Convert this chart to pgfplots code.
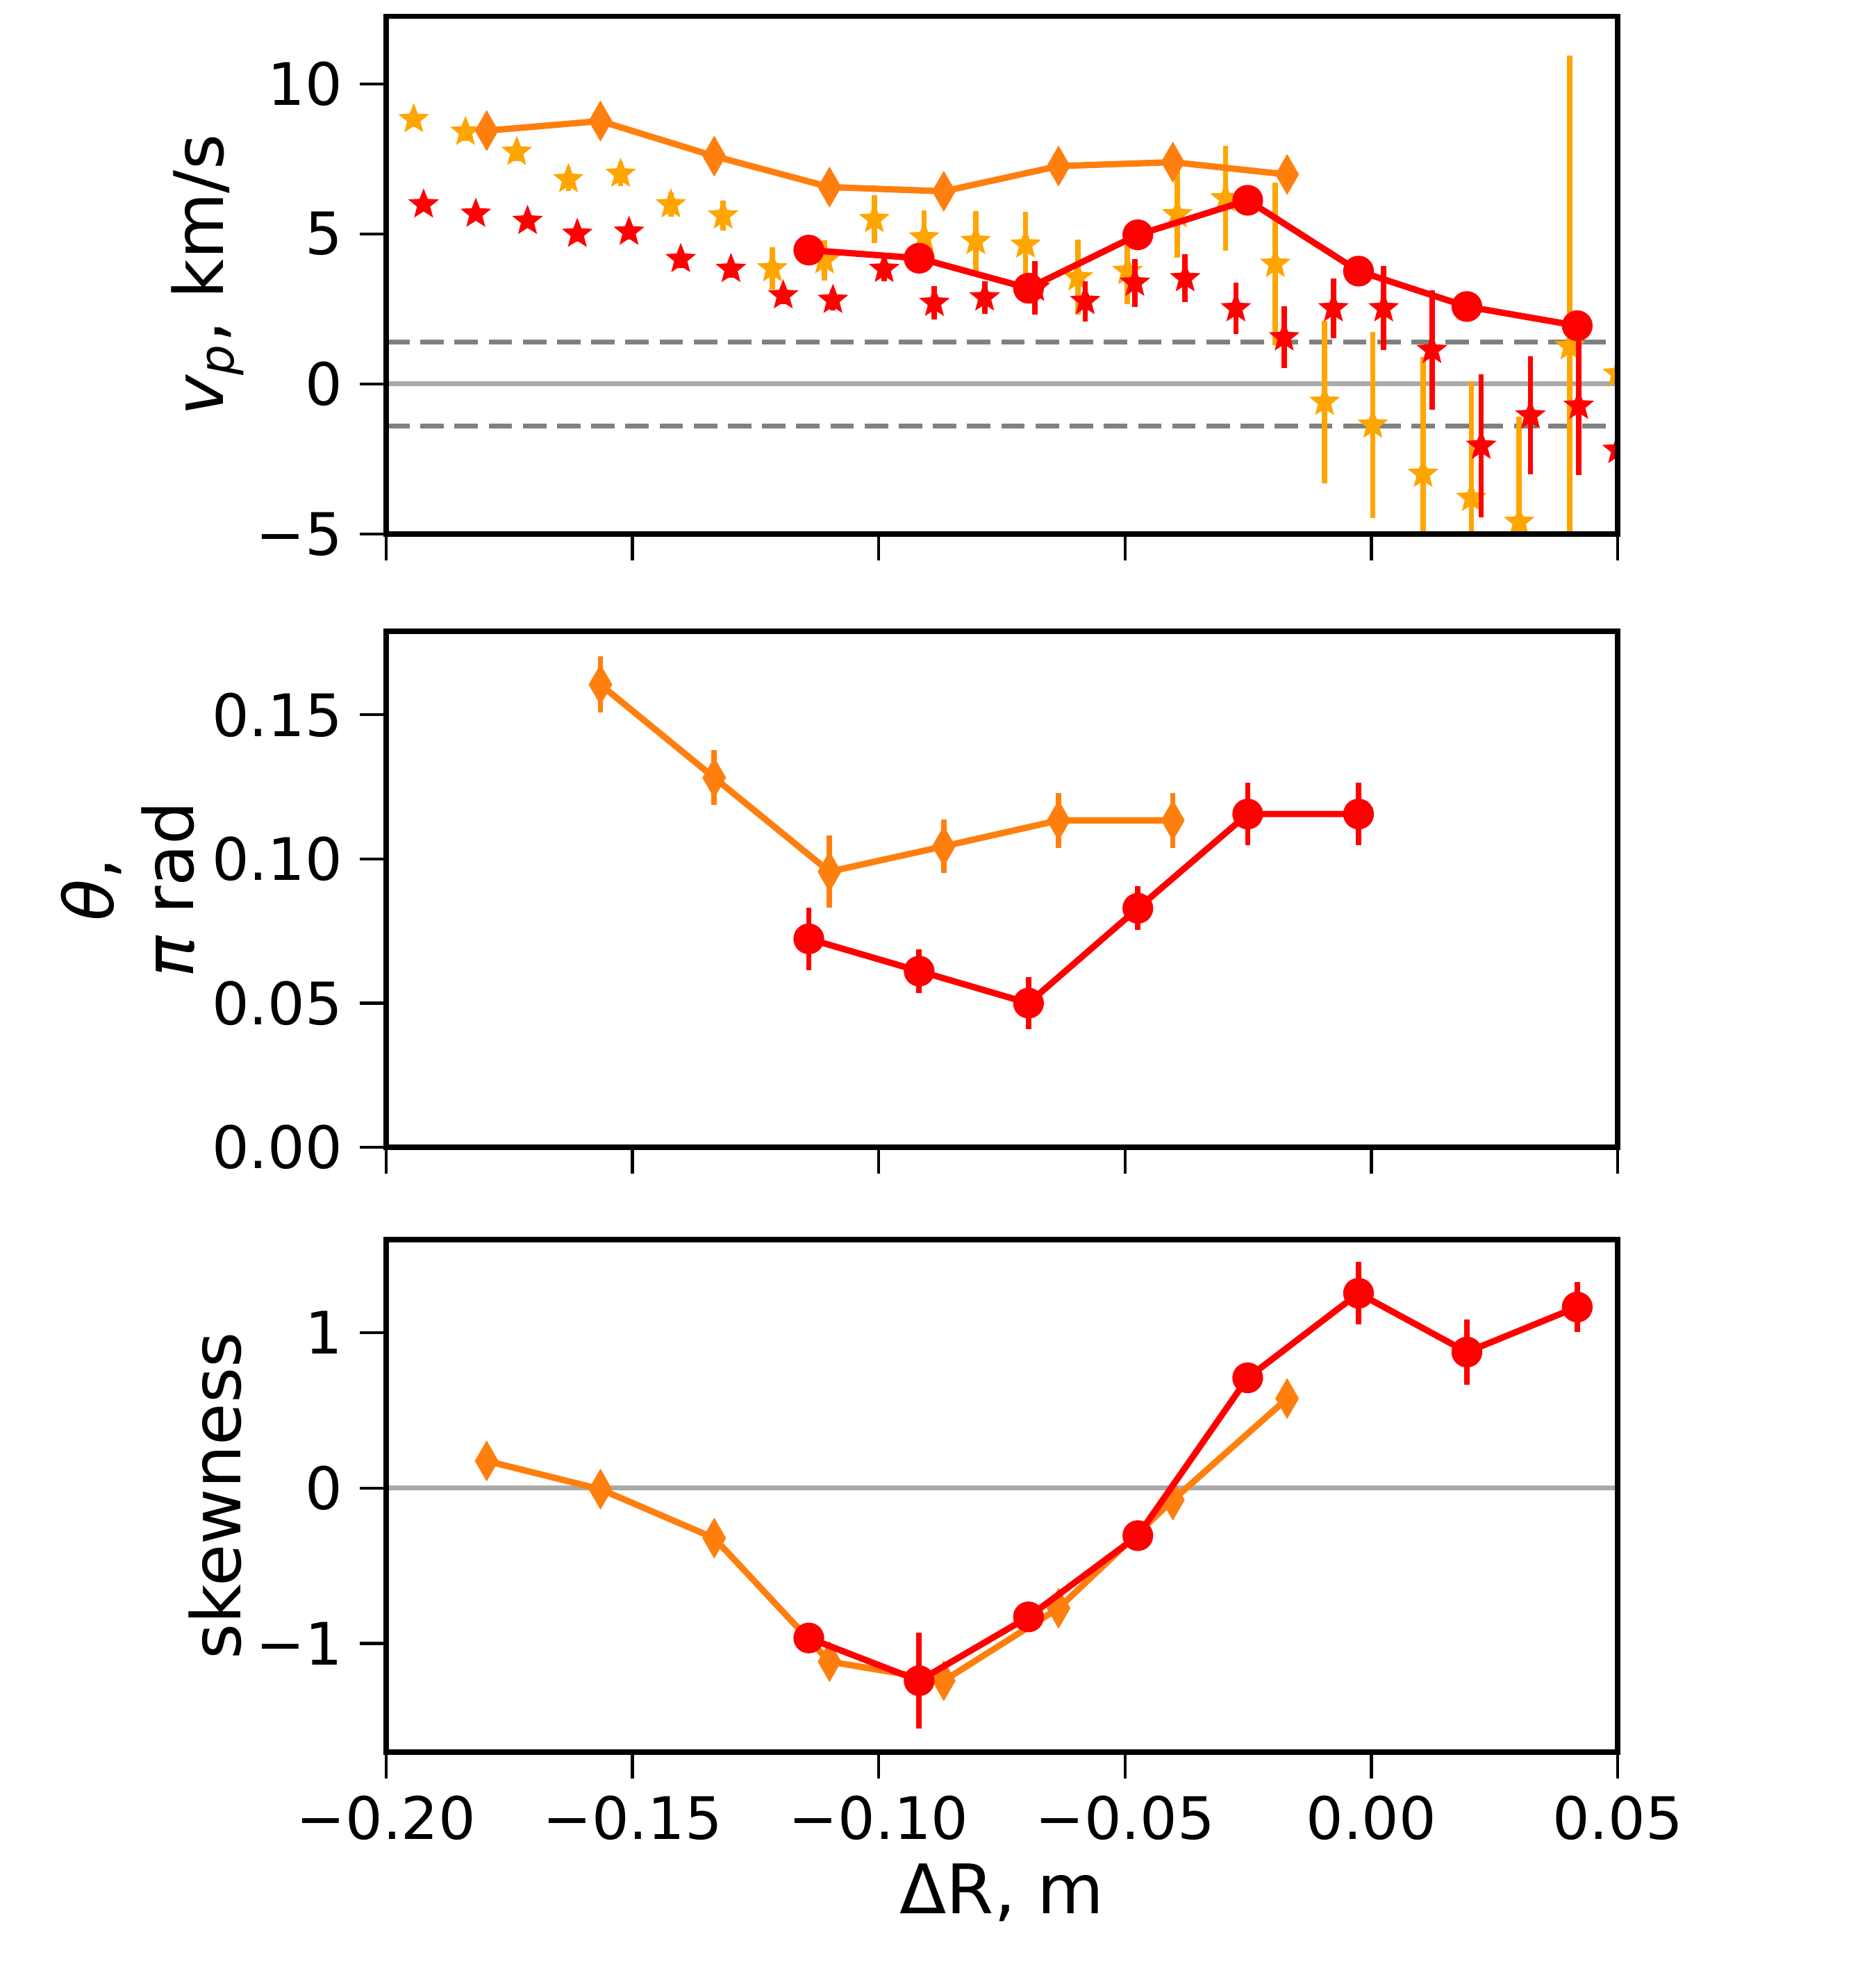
\documentclass[border=0pt]{standalone}
\usepackage{fontspec}
\setmainfont{DejaVu Sans}
\usepackage{pgfplots}
\pgfplotsset{compat=1.18}
\usepackage{pgfplotstable}

\definecolor{cred}{HTML}{FF0000}
\definecolor{corange}{HTML}{FF7F0E}
\definecolor{cgold}{HTML}{FFA500}
\definecolor{czero}{HTML}{AAAAAA}
\definecolor{cdash}{HTML}{808080}

\pgfdeclareplotmark{fstar}{%
  \pgfpathmoveto{\pgfpointpolar{90}{\pgfplotmarksize}}%
  \pgfpathlineto{\pgfpointpolar{126}{0.43\pgfplotmarksize}}%
  \pgfpathlineto{\pgfpointpolar{162}{\pgfplotmarksize}}%
  \pgfpathlineto{\pgfpointpolar{198}{0.43\pgfplotmarksize}}%
  \pgfpathlineto{\pgfpointpolar{234}{\pgfplotmarksize}}%
  \pgfpathlineto{\pgfpointpolar{270}{0.43\pgfplotmarksize}}%
  \pgfpathlineto{\pgfpointpolar{306}{\pgfplotmarksize}}%
  \pgfpathlineto{\pgfpointpolar{342}{0.43\pgfplotmarksize}}%
  \pgfpathlineto{\pgfpointpolar{18}{\pgfplotmarksize}}%
  \pgfpathlineto{\pgfpointpolar{54}{0.43\pgfplotmarksize}}%
  \pgfpathclose
  \pgfusepathqfillstroke
}

% top panel: gold stars
\pgfplotstableread{
x y e
-0.1944 8.82 0.25
-0.1839 8.40 0.30
-0.1735 7.73 0.30
-0.1630 6.82 0.40
-0.1524 7.00 0.40
-0.1422 5.98 0.40
-0.1316 5.61 0.50
-0.1216 3.85 0.70
-0.1110 4.12 0.67
-0.1009 5.49 0.80
-0.0908 4.88 0.90
-0.0803 4.76 1.00
-0.0702 4.64 1.10
-0.0596 3.55 1.25
-0.0495 3.76 1.10
-0.0394 5.65 1.45
-0.0296 6.18 1.75
-0.0195 4.00 2.70
-0.0095 -0.60 2.70
0.0003 -1.36 3.10
0.0105 -3.00 3.90
0.0203 -3.80 3.90
0.0300 -4.60 3.50
0.0403 1.25 9.70
0.0500 0.34 1.50
}\goldstars

% top panel: red stars
\pgfplotstableread{
x y e
-0.1924 5.98 0.20
-0.1818 5.67 0.20
-0.1713 5.43 0.20
-0.1612 5.00 0.25
-0.1507 5.07 0.25
-0.1402 4.16 0.30
-0.1300 3.83 0.30
-0.1194 2.95 0.30
-0.1093 2.80 0.35
-0.0989 3.83 0.40
-0.0887 2.70 0.55
-0.0785 2.88 0.55
-0.0683 3.20 0.90
-0.0581 2.76 0.67
-0.0480 3.37 0.80
-0.0378 3.52 0.80
-0.0275 2.52 0.85
-0.0177 1.55 1.03
-0.0077 2.52 1.00
0.0025 2.52 1.40
0.0123 1.13 2.00
0.0223 -2.06 2.38
0.0323 -1.05 1.97
0.0421 -0.73 2.30
0.0500 -2.20 2.00
}\redstars

% top panel: lines
\pgfplotstableread{
x y
-0.1796 8.44
-0.1565 8.76
-0.1334 7.59
-0.1100 6.56
-0.0868 6.42
-0.0635 7.26
-0.0403 7.39
-0.0171 6.98
}\vpdiam

\pgfplotstableread{
x y
-0.1142 4.46
-0.0918 4.19
-0.0696 3.19
-0.0474 4.97
-0.0251 6.12
-0.0026 3.76
0.0194 2.58
0.0418 1.94
}\vpcirc

% middle panel
\pgfplotstableread{
x y e
-0.1565 0.1605 0.0098
-0.1334 0.1282 0.0095
-0.1100 0.0956 0.0125
-0.0868 0.1044 0.0092
-0.0635 0.1134 0.0095
-0.0403 0.1134 0.0095
}\thdiam

\pgfplotstableread{
x y e
-0.1142 0.0723 0.0108
-0.0918 0.0611 0.0076
-0.0696 0.0500 0.0090
-0.0474 0.0829 0.0076
-0.0251 0.1156 0.0108
-0.0026 0.1156 0.0108
}\thcirc

% bottom panel
\pgfplotstableread{
x y e
-0.1796 0.175 0.04
-0.1565 -0.007 0.04
-0.1334 -0.322 0.04
-0.1100 -1.117 0.04
-0.0868 -1.240 0.04
-0.0635 -0.773 0.04
-0.0403 -0.077 0.04
-0.0171 0.577 0.04
}\skdiam

\pgfplotstableread{
x y e
-0.1142 -0.965 0.05
-0.0918 -1.240 0.31
-0.0696 -0.829 0.05
-0.0474 -0.306 0.05
-0.0251 0.710 0.05
-0.0026 1.255 0.20
0.0194 0.876 0.21
0.0418 1.166 0.16
}\skcirc

\pgfplotsset{
  pnl/.style={
    scale only axis, width=8.865cm,
    xmin=-0.2, xmax=0.05,
    xtick={-0.2,-0.15,-0.1,-0.05,0,0.05},
    tick align=outside, tick pos=left,
    major tick length=0.19cm,
    tick style={black, line width=0.6pt},
    axis line style={black, line width=1.1pt},
    ticklabel style={font=\fontsize{12}{14}\selectfont},
    clip=true, clip marker paths=true, axis on top,
  },
  diam/.style={corange, line width=1.3pt, mark=diamond*, mark size=3.9pt,
    mark options={solid, xscale=0.77, line width=0.3pt}},
  circ/.style={cred, line width=1.3pt, mark=*, mark size=3pt,
    mark options={solid, line width=0.3pt}},
  ebar/.style={error bars/.cd, y dir=both, y explicit, error mark=none,
    error bar style={line width=1.1pt, solid}},
}

\begin{document}
\begin{tikzpicture}
\path[use as bounding box] (-2.78cm,0cm) rectangle (10.72cm,-14.27cm);

% ---------- top ----------
\begin{axis}[pnl, at={(0cm,-0.1175cm)}, anchor=north west, height=3.7275cm,
  ymin=-5, ymax=12.25,
  ytick={-5,0,5,10}, yticklabels={−5,0,5,10},
  xticklabels={},
  ylabel={{\itshape v}\textsubscript{\itshape p}, km/s},
  every axis y label/.style={at={(axis description cs:-0.1325,0.5)}, rotate=90, anchor=base,
    font=\fontsize{14}{16.3}\selectfont},
]
\addplot[czero, line width=1pt] coordinates {(-0.2,0) (0.05,0)};
\addplot[cdash, line width=1.1pt, dash pattern=on 4.8pt off 2.2pt] coordinates {(-0.2,1.4) (0.05,1.4)};
\addplot[cdash, line width=1.1pt, dash pattern=on 4.8pt off 2.2pt] coordinates {(-0.2,-1.4) (0.05,-1.4)};
\addplot[cgold, only marks, mark=fstar, mark size=2.9pt, mark options={line width=0.3pt}, ebar]
  table[x=x, y=y, y error=e] {\goldstars};
\addplot[cred, only marks, mark=fstar, mark size=2.9pt, mark options={line width=0.3pt}, ebar]
  table[x=x, y=y, y error=e] {\redstars};
\addplot[diam] table[x=x, y=y] {\vpdiam};
\addplot[circ] table[x=x, y=y] {\vpcirc};
\end{axis}

% ---------- middle ----------
\begin{axis}[pnl, at={(0cm,-4.545cm)}, anchor=north west, height=3.715cm,
  ymin=0, ymax=0.179,
  ytick={0,0.05,0.1,0.15}, yticklabels={0.00,0.05,0.10,0.15},
  xticklabels={},
  ylabel={{\itshape θ},\\{\itshape π} rad},
  every axis y label/.style={at={(axis description cs:-0.2098,0.5)}, rotate=90, anchor=center,
    inner sep=0pt, align=center, font=\fontsize{14}{16.3}\selectfont},
]
\addplot[diam, ebar] table[x=x, y=y, y error=e] {\thdiam};
\addplot[circ, ebar] table[x=x, y=y, y error=e] {\thcirc};
\end{axis}

% ---------- bottom ----------
\begin{axis}[pnl, at={(0cm,-8.925cm)}, anchor=north west, height=3.69cm,
  ymin=-1.70, ymax=1.60,
  ytick={-1,0,1}, yticklabels={−1,0,1},
  xticklabels={−0.20,−0.15,−0.10,−0.05,0.00,0.05},
  ylabel={skewness},
  every axis y label/.style={at={(axis description cs:-0.1184,0.5)}, rotate=90, anchor=base,
    font=\fontsize{14}{16.3}\selectfont},
  xlabel={ΔR, m},
  every axis x label/.style={at={(axis description cs:0.5,0)}, yshift=-1.16cm, anchor=base,
    font=\fontsize{14}{16.3}\selectfont},
]
\addplot[czero, line width=1pt] coordinates {(-0.2,0) (0.05,0)};
\addplot[diam, ebar] table[x=x, y=y, y error=e] {\skdiam};
\addplot[circ, ebar] table[x=x, y=y, y error=e] {\skcirc};
\end{axis}
\end{tikzpicture}
\end{document}
